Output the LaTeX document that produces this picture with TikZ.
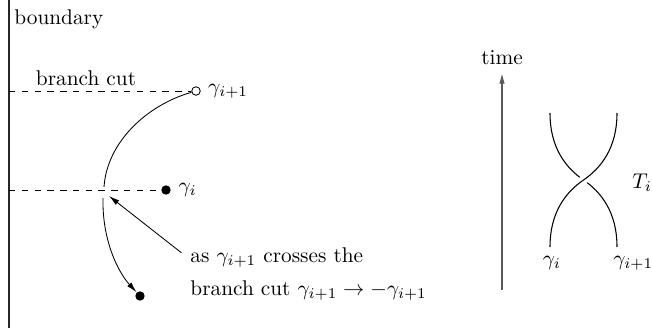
\documentclass[tikz,border=0pt]{standalone}
\usetikzlibrary{arrows.meta}
\begin{document}
\begin{tikzpicture}[x=0.0165cm, y=-0.0165cm, >={Latex[length=5pt,width=2.6pt]},
	dot/.style={circle, fill, inner sep=0pt, minimum size=4.4pt},
	hollow/.style={circle, draw, fill=white, inner sep=0pt, minimum size=4pt},
	cut/.style={dashed},
	strand/.style={line width=0.5pt}]
	
	\useasboundingbox (0,0) rectangle (652,328);
	
	% Boundary
	\coordinate (btop) at (9,0);
	\coordinate (bbot) at (9,328);
	\draw[line width=1.4pt, black!85] (btop) -- (bbot);
	\node[anchor=base west, inner sep=0pt] (boundary) at (14,25) {boundary};
	
	% Branch cuts
	\coordinate (cut1) at (9,91);
	\coordinate (cut2) at (9,190);
	\node[hollow] (gip1) at (196,91) {};
	\node[dot] (gi) at (166,190) {};
	\node[dot] (gend) at (140,296) {};
	\draw[cut] (cut1) -- (gip1);
	\draw[cut] (cut2) -- (gi);
	\node[anchor=base, inner sep=0pt] (cutlabel) at (86,85) {branch cut};
	\node[anchor=west] (lgip1) at (gip1.east) {$\gamma_{i+1}$};
	\node[anchor=west] (lgi) at (gi.east) {$\gamma_i$};
	
	% Path of gamma_{i+1}
	\coordinate (arcup) at (104,187);
	\coordinate (arcdown) at (103,198);
	\draw (gip1) .. controls (147,105) and (107,142) .. (arcup);
	\draw[->] (arcdown) .. controls (102,240) and (118,272) .. (gend);
	
	% Note
	\node[anchor=base west, inner sep=0pt] (note1) at (190,262) {as $\gamma_{i+1}$ crosses the};
	\node[anchor=base west, inner sep=0pt] (note2) at (190,295) {branch cut $\gamma_{i+1}\rightarrow-\gamma_{i+1}$};
	\coordinate (tip) at (109,196);
	\draw[->] ([xshift=-4pt,yshift=2pt]note1.west) -- (tip);
	
	% Time axis
	\coordinate (tstart) at (502,290);
	\coordinate (tend) at (502,73);
	\draw[->, black!65, line width=0.6pt] (tstart) -- (tend);
	\node (time) at (502,58) {time};
	
	% Braid
	\coordinate (tl) at (550,113);
	\coordinate (tr) at (617,113);
	\coordinate (bl) at (550,247);
	\coordinate (br) at (617,247);
	\coordinate (mid) at (583.5,180);
	\draw[strand] (tl) .. controls (550,148) and (566,168) .. (mid)
		.. controls (601,192) and (617,212) .. (br);
	\draw[strand, preaction={draw=white, line width=4pt}] (bl) .. controls (550,212) and (566,192) .. (mid)
		.. controls (601,168) and (617,148) .. (tr);
	\node (lbl) at (552,263) {$\gamma_i$};
	\node[anchor=west, inner sep=0pt] (lbr) at (613,263) {$\gamma_{i+1}$};
	\node[anchor=west, inner sep=0pt] (Ti) at (632,183) {$T_i$};
	
\end{tikzpicture}
\end{document}
